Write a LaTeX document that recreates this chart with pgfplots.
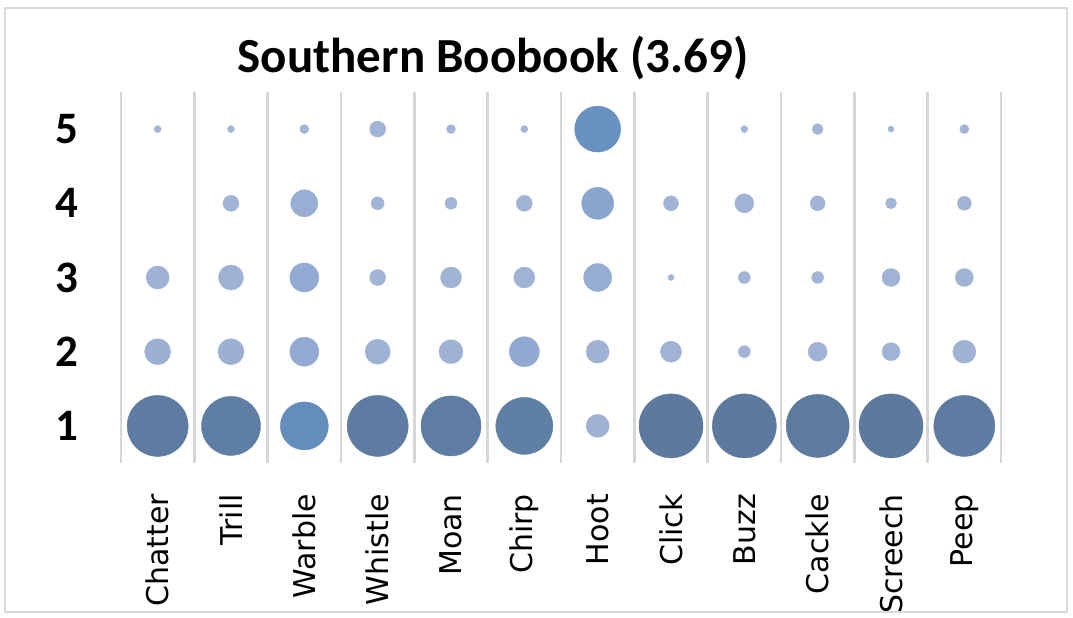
\documentclass[border=0pt]{standalone}
\usepackage{pgfplots}
\pgfplotsset{compat=1.18}
\usepackage{pgfplotstable}
\usepackage{fontspec}
\setmainfont{Carlito}
\newfontfamily\labfont{DejaVu Sans}
\definecolor{gridgray}{RGB}{214,214,214}
\definecolor{framegray}{RGB}{217,217,217}

\pgfplotsset{colormap={bub}{rgb255(0pt)=(165,183,217) rgb255(25pt)=(158,178,212) rgb255(32pt)=(138,166,208) rgb255(47pt)=(102,143,190) rgb255(56pt)=(97,128,166) rgb255(64pt)=(93,122,158)}}

% x = category index, y = rating level, d = bubble diameter
\pgfplotstableread{
x y d
0 5 7
0 3 23
0 2 26
0 1 61
1 5 7
1 4 16
1 3 25
1 2 26
1 1 59
2 5 9
2 4 27
2 3 29
2 2 29
2 1 48
3 5 16
3 4 13
3 3 16
3 2 25
3 1 61
4 5 9
4 4 12
4 3 21
4 2 24
4 1 60
5 5 7
5 4 16
5 3 21
5 2 30
5 1 57
6 5 46
6 4 32
6 3 28
6 2 23
6 1 23
7 4 15
7 3 6
7 2 21
7 1 64
8 5 7
8 4 19
8 3 12
8 2 12
8 1 64
9 5 11
9 4 15
9 3 12
9 2 19
9 1 63
10 5 6
10 4 11
10 3 18
10 2 18
10 1 64
11 5 9
11 4 14
11 3 18
11 2 23
11 1 61
}\bubbles

\begin{document}
\begin{tikzpicture}
\useasboundingbox (0pt,0pt) rectangle (1073pt,618pt);
\fill[white] (0pt,0pt) rectangle (1073pt,618pt);
\draw[framegray, line width=2.5pt] (5pt,6pt) rectangle (1067pt,610pt);
\begin{axis}[
  at={(121pt,155pt)}, anchor=south west,
  scale only axis, width=880pt, height=371pt,
  xmin=-0.5, xmax=11.5, ymin=0.5, ymax=5.5,
  axis line style={draw=none},
  major tick length=0pt, minor tick length=0pt,
  xtick={0,1,2,3,4,5,6,7,8,9,10,11},
  xticklabels={Chatter,Trill,Warble,Whistle,Moan,Chirp,Hoot,Click,Buzz,Cackle,Screech,Peep},
  minor xtick={-0.5,0.5,1.5,2.5,3.5,4.5,5.5,6.5,7.5,8.5,9.5,10.5,11.5},
  xminorgrids, minor grid style={draw=gridgray, line width=2.5pt},
  xticklabel style={rotate=90, anchor=east, inner sep=0pt, font=\labfont\fontsize{30}{30}\selectfont},
  xticklabel shift=31pt,
  ytick={1,2,3,4,5},
  yticklabels={1,2,3,4,5},
  yticklabel style={anchor=center, inner sep=0pt, xshift=-54pt, font=\fontsize{45}{45}\selectfont\bfseries},
  colormap name=bub,
  point meta min=0, point meta max=64,
  clip=false,
]
\addplot[scatter, only marks, mark=*,
  point meta=\thisrow{d},
  scatter/use mapped color={draw=mapped color, fill=mapped color},
  visualization depends on={\thisrow{d}/2 \as \rad},
  scatter/@pre marker code/.append style={/tikz/mark size=\rad}]
  table[x=x, y=y] {\bubbles};
\end{axis}
\node[font=\fontsize{49}{49}\selectfont\bfseries] at (493pt,560pt) {Southern Boobook (3.69)};
\end{tikzpicture}
\end{document}
